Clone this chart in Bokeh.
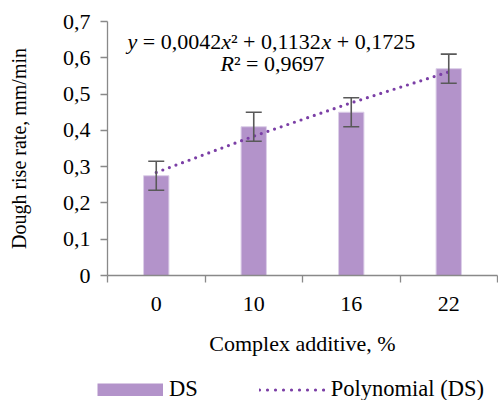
from bokeh.plotting import figure
from bokeh.layouts import column
from bokeh.models import (ColumnDataSource, Whisker, FixedTicker, Label, Legend,
                          LegendItem, Range1d, TeeHead, Title)
from bokeh.embed import file_html
from bokeh.resources import INLINE

# ---- data ----
categories = ["0", "10", "16", "22"]
ds_values = [0.275, 0.41, 0.45, 0.57]
ds_errors = [0.04, 0.04, 0.04, 0.04]
trend_values = [0.284, 0.384, 0.476, 0.561]
y_ticks = [0, 0.1, 0.2, 0.3, 0.4, 0.5, 0.6, 0.7]
y_tick_labels = ["0", "0,1", "0,2", "0,3", "0,4", "0,5", "0,6", "0,7"]
series_name = "DS"
trend_name = "Polynomial (DS)"
x_title = "Complex additive, %"
y_title = "Dough rise rate, mm/min"

FONT = "Liberation Serif"
BAR = "#B393CA"
TREND = "#7B3FA6"
AXIS = "#898989"
ERR = "#595959"

positions = [i + 1 for i in range(len(categories))]
src = ColumnDataSource(dict(
    x=positions, top=ds_values,
    upper=[v + e for v, e in zip(ds_values, ds_errors)],
    lower=[v - e for v, e in zip(ds_values, ds_errors)],
))

p = figure(width=498, height=365, output_backend="svg", toolbar_location=None,
           x_range=Range1d(0.5, len(categories) + 0.5), y_range=Range1d(0, 0.7),
           min_border_left=107, min_border_right=1, min_border_top=21,
           min_border_bottom=90)
p.outline_line_color = None
p.xgrid.visible = False
p.ygrid.visible = False
p.background_fill_color = "white"
p.border_fill_color = "white"

bars = p.vbar(x="x", top="top", width=0.26, fill_color=BAR, line_color="#DCCFE8",
              line_width=1, source=src)

wh = Whisker(base="x", upper="upper", lower="lower", source=src, level="overlay",
             line_color=ERR, line_width=1.6,
             upper_head=TeeHead(size=16, line_color=ERR, line_width=1.6),
             lower_head=TeeHead(size=16, line_color=ERR, line_width=1.6))
p.add_layout(wh)

trend = p.line(x=positions, y=trend_values, line_color=TREND, line_width=3.2,
               line_dash="0 7", line_cap="round")

# ---- axes ----
yax = p.yaxis[0]
yax.ticker = FixedTicker(ticks=y_ticks)
yax.major_label_overrides = {t: l for t, l in zip(y_ticks, y_tick_labels)}
yax.axis_line_color = AXIS
yax.axis_line_width = 1.3
yax.major_tick_line_color = AXIS
yax.major_tick_line_width = 1.3
yax.major_tick_out = 7
yax.major_tick_in = 0
yax.minor_tick_line_color = None
yax.major_label_text_font = FONT
yax.major_label_text_font_size = "22px"
yax.major_label_text_color = "black"
yax.major_label_standoff = 10

ytitle = Title(text=y_title, align="center", offset=18,
               text_font=FONT, text_font_size="20px", text_font_style="normal",
               text_color="black")
if "padding" in ytitle.properties():
    ytitle.padding = dict(left=0, right=0, top=0, bottom=25)
p.add_layout(ytitle, "left")

xax = p.xaxis[0]
xax.ticker = FixedTicker(ticks=positions,
                         minor_ticks=[x - 0.5 for x in positions] + [positions[-1] + 0.5])
xax.major_label_overrides = {x: c for x, c in zip(positions, categories)}
xax.axis_line_color = AXIS
xax.axis_line_width = 1.3
xax.major_tick_line_color = None
xax.major_tick_out = 0
xax.major_tick_in = 0
xax.minor_tick_line_color = AXIS
xax.minor_tick_line_width = 1.3
xax.minor_tick_out = 7
xax.minor_tick_in = 0
xax.major_label_text_font = FONT
xax.major_label_text_font_size = "22px"
xax.major_label_text_color = "black"
xax.major_label_standoff = 14
xax.axis_label = x_title
xax.axis_label_text_font = FONT
xax.axis_label_text_font_size = "22px"
xax.axis_label_text_font_style = "normal"
xax.axis_label_text_color = "black"
xax.axis_label_standoff = 17

# ---- trend equation ----
EM = 22
W = {"y": 0.444, "x": 0.444, "R": 0.611, "sup2": 0.3, "sp": 0.25,
     "=": 0.564, "+": 0.564, "num": 2.75}

def seg(text, off, y, italic=False):
    p.add_layout(Label(x=0.5, y=y, x_units="data", y_units="data", x_offset=off,
                       text=text, text_font=FONT, text_font_size=f"{EM}px",
                       text_font_style="italic" if italic else "normal",
                       text_color="black", text_align="left",
                       text_baseline="alphabetic"))

y1, y2 = 0.645, 0.584
o = 20.0
seg("y", o, y1, True); o += W["y"] * EM + W["sp"] * EM
seg("= 0,0042", o, y1); o += (W["="] + W["sp"] + W["num"]) * EM
seg("x", o, y1, True); o += W["x"] * EM
seg("²", o, y1); o += W["sup2"] * EM + W["sp"] * EM
seg("+ 0,1132", o, y1); o += (W["+"] + W["sp"] + W["num"]) * EM
seg("x", o, y1, True); o += W["x"] * EM + W["sp"] * EM
seg("+ 0,1725", o, y1)

o = 113.0
seg("R", o, y2, True); o += W["R"] * EM
seg("² = 0,9697", o, y2)

# ---- legend strip below the chart ----
lg = figure(width=498, height=35, output_backend="svg", toolbar_location=None,
            x_range=Range1d(0, 1), y_range=Range1d(0, 1),
            x_axis_type=None, y_axis_type=None,
            min_border_left=0, min_border_right=0, min_border_top=0,
            min_border_bottom=0)
if "frame_align" in lg.properties():
    lg.frame_align = False
    p.frame_align = False
lg.outline_line_color = None
lg.xgrid.visible = False
lg.ygrid.visible = False
proxy_bar = lg.line(x=[float("nan")], y=[float("nan")], line_color=BAR,
                    line_width=13, line_cap="butt")
proxy_trend = lg.line(x=[float("nan")], y=[float("nan")], line_color=TREND,
                      line_width=3.2, line_dash="0 8", line_cap="round")
legend = Legend(items=[LegendItem(label=series_name, renderers=[proxy_bar]),
                       LegendItem(label=trend_name, renderers=[proxy_trend])],
                orientation="horizontal", location=(97, -2),
                glyph_width=66, glyph_height=13, label_standoff=6, spacing=61,
                padding=0, margin=0, border_line_color=None,
                background_fill_alpha=0,
                label_text_font=FONT, label_text_font_size="22.5px",
                label_text_color="black")
lg.add_layout(legend)

layout = column(p, lg, spacing=0)
open("out.html", "w").write(file_html(layout, INLINE))
